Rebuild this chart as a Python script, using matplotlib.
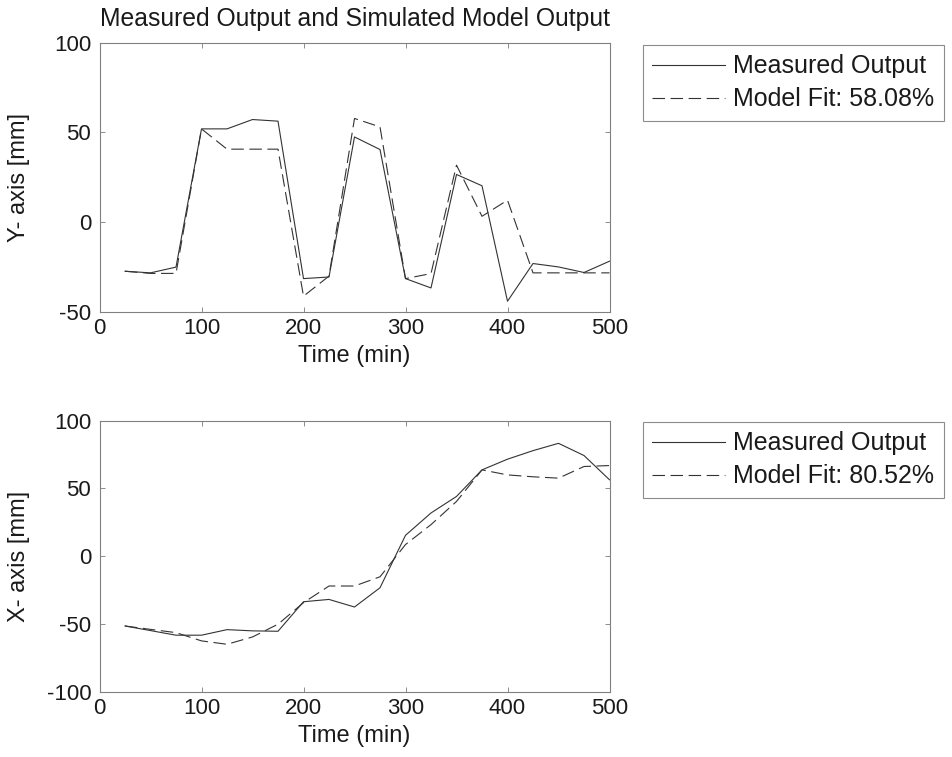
import matplotlib
matplotlib.use("Agg")
import matplotlib.pyplot as plt

plt.rcParams['font.family'] = ['Liberation Sans', 'DejaVu Sans']
plt.rcParams['axes.unicode_minus'] = False
plt.rcParams['lines.scale_dashes'] = False

# time samples (min)
time = [25, 50, 75, 100, 125, 150, 175, 200, 225, 250,
        275, 300, 325, 350, 375, 400, 425, 450, 475, 500]

# Y axis: measured and simulated
y_meas = [-27.3, -28.2, -25.0, 52.0, 52.0, 57.2, 56.3, -31.4, -30.5, 47.5,
          40.5, -31.4, -36.6, 26.6, 20.3, -44.0, -23.0, -24.9, -28.0, -21.7]
y_model = [-27.3, -28.5, -28.5, 52.0, 40.7, 40.7, 40.7, -41.2, -30.0, 57.8,
           53.1, -31.4, -28.6, 31.8, 3.3, 12.3, -28.2, -28.2, -28.2, -28.2]

# X axis: measured and simulated
x_meas = [-51.5, -54.9, -58.3, -58.3, -54.2, -55.1, -55.4, -33.6, -31.9, -37.5,
          -23.3, 15.4, 31.9, 44.1, 63.7, 71.6, 77.9, 83.3, 74.3, 56.4]
x_model = [-51.5, -54.0, -56.4, -62.5, -65.0, -59.6, -50.2, -34.3, -22.0, -22.0,
           -15.2, 8.6, 23.3, 40.4, 63.7, 60.0, 58.6, 57.6, 66.2, 66.9]

fit_y = "58.08%"
fit_x = "80.52%"

W, H = 952, 757
fig = plt.figure(figsize=(W / 100, H / 100), dpi=100)
ax1 = fig.add_axes([99.5 / W, 1 - 312 / H, 510 / W, 269.3 / H])
ax2 = fig.add_axes([99.5 / W, 1 - 691.7 / H, 510 / W, 271 / H])

line_col = '0.2'
dash = (0, (9, 4))

def style(ax, yticks, ylim, ylabel, leg_top, fit):
    ax.set_xlim(0, 500)
    ax.set_ylim(*ylim)
    ax.set_xticks(range(0, 501, 100))
    ax.set_yticks(yticks)
    ax.tick_params(direction='in', length=3.5, width=0.7, color='0.55',
                   top=True, right=True, labelsize=16, labelcolor='0.1')
    ax.tick_params(axis='x', pad=4.5)
    ax.tick_params(axis='y', pad=6)
    for s in ax.spines.values():
        s.set_color('0.5')
        s.set_linewidth(0.8)
    ax.set_xlabel("Time (min)", fontsize=17, color='0.1', labelpad=4)
    ax.set_ylabel(ylabel, fontsize=17, color='0.1')
    ax.yaxis.set_label_coords(-0.136, 0.5)
    leg = ax.legend(["Measured Output", "Model Fit: " + fit],
                    loc='upper left', bbox_to_anchor=(642.7 / W, 1 - leg_top / H),
                    bbox_transform=fig.transFigure, borderaxespad=0,
                    fontsize=18, frameon=True, fancybox=False, framealpha=1,
                    handlelength=2.9, handletextpad=0.35, borderpad=0.38,
                    labelspacing=0.36)
    leg.get_frame().set_edgecolor('0.55')
    leg.get_frame().set_linewidth(0.8)
    for t in leg.get_texts():
        t.set_color('0.1')

ax1.plot(time, y_meas, color=line_col, lw=0.8)
ax1.plot(time, y_model, color=line_col, lw=0.8, linestyle=dash)
style(ax1, [-50, 0, 50, 100], (-50, 100), "Y- axis [mm]", 45, fit_y)
ax1.set_title("Measured Output and Simulated Model Output", fontsize=17.8,
              color='0.1', pad=12)

ax2.plot(time, x_meas, color=line_col, lw=0.8)
ax2.plot(time, x_model, color=line_col, lw=0.8, linestyle=dash)
style(ax2, [-100, -50, 0, 50, 100], (-100, 100), "X- axis [mm]", 422, fit_x)

fig.savefig("out.png", dpi=100, facecolor='white')
